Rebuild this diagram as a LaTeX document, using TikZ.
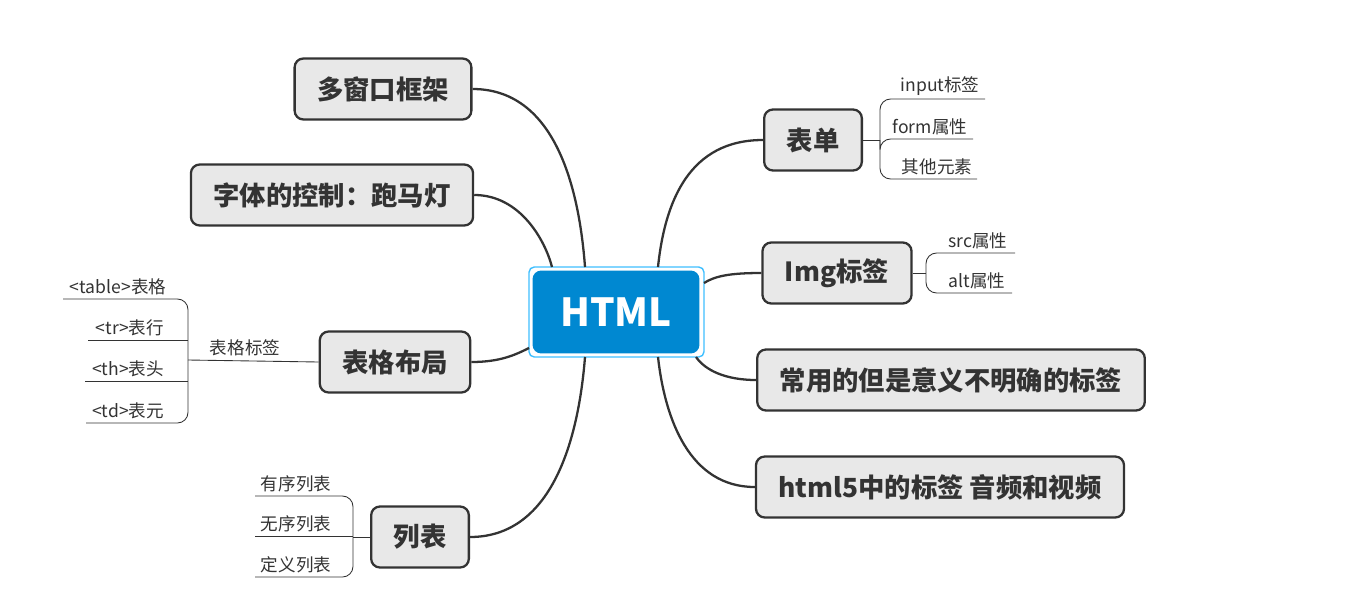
\documentclass[tikz,border=0pt]{standalone}
\usepackage{fontspec}
\setmainfont{Noto Sans CJK SC}
\usepackage{tikz}
\definecolor{topicgray}{HTML}{E8E8E8}
\definecolor{linegray}{HTML}{333333}
\definecolor{htmlblue}{HTML}{0088D1}
\definecolor{selblue}{HTML}{3FBFFF}
\tikzset{
  topic/.style={draw=linegray,line width=1.3pt,fill=topicgray,rounded corners=5pt,
    minimum height=1.22cm,inner xsep=0.45cm,font=\fontsize{15}{18}\selectfont\bfseries,text=linegray},
  sub/.style={font=\fontsize{10}{12}\selectfont,text=linegray,anchor=south,inner sep=2pt},
  branch/.style={draw=linegray,line width=1.3pt},
  leaf/.style={draw=linegray,line width=0.5pt,rounded corners=6pt}
}
\begin{document}
\begin{tikzpicture}[x=0.02cm,y=-0.02cm]
\useasboundingbox (0,0) rectangle (1354,605);

% Central topic
\draw[selblue,line width=0.8pt,rounded corners=3pt] (529,267) rectangle (704,357);
\node[fill=htmlblue,rounded corners=5pt,minimum width=3.34cm,minimum height=1.66cm,
  text=white,font=\fontsize{22}{26}\selectfont\bfseries] (html) at (616,312) {HTML};

% Main topics
\node[topic] (frame) at (383,89) {多窗口框架};
\node[topic] (font) at (332,195) {字体的控制：跑马灯};
\node[topic] (table) at (395,362) {表格布局};
\node[topic] (list) at (420,537) {列表};
\node[topic] (form) at (813,140) {表单};
\node[topic] (img) at (837,273) {Img标签};
\node[topic] (common) at (951,380) {常用的但是意义不明确的标签};
\node[topic] (html5) at (940,487) {html5中的标签 音频和视频};

% Branches
\draw[branch] (frame.east) .. controls (560,89) and (580,200) .. (585,267);
\draw[branch] (font.east) .. controls (520,195) and (545,240) .. (552,267);
\draw[branch] (table.east) .. controls (500,362) and (515,355) .. (529,348);
\draw[branch] (list.east) .. controls (560,537) and (580,420) .. (585,357);
\draw[branch] (form.west) .. controls (690,140) and (665,200) .. (658,267);
\draw[branch] (img.west) .. controls (730,273) and (715,276) .. (704,283);
\draw[branch] (common.west) .. controls (725,380) and (705,370) .. (696,357);
\draw[branch] (html5.west) .. controls (690,487) and (665,420) .. (658,357);

% Form details
\coordinate (fj) at (880,140);
\draw[leaf] (form.east) -- (fj);
\draw[leaf] (985,99) -- (880,99) -- (880,179) -- (977,179);
\draw[leaf] (fj) -- (880,139) -- (973,139);
\node[sub] (f1) at (940,99) {input标签};
\node[sub] (f2) at (930,139) {form属性};
\node[sub] (f3) at (937,179) {其他元素};

% Img details
\coordinate (ij) at (926,273);
\draw[leaf] (img.east) -- (ij);
\draw[leaf] (1015,253) -- (926,253) -- (926,293) -- (1012,293);
\node[sub] (i1) at (978,253) {src属性};
\node[sub] (i2) at (977,293) {alt属性};

% Table details
\coordinate (tj) at (188,360);
\draw[leaf] (table.west) -- (tj);
\node[sub] (tl) at (245,360) {表格标签};
\draw[leaf] (63,299) -- (188,299) -- (188,423) -- (86,423);
\draw[leaf] (88,340) -- (188,340);
\draw[leaf] (85,381) -- (188,381);
\node[sub] (t1) at (118,299) {<table>表格};
\node[sub] (t2) at (130,340) {<tr>表行};
\node[sub] (t3) at (128,381) {<th>表头};
\node[sub] (t4) at (128,423) {<td>表元};

% List details
\coordinate (lj) at (353,537);
\draw[leaf] (list.west) -- (lj);
\draw[leaf] (255,496) -- (353,496) -- (353,577) -- (255,577);
\draw[leaf] (255,536) -- (353,536);
\node[sub] (l1) at (296,496) {有序列表};
\node[sub] (l2) at (296,536) {无序列表};
\node[sub] (l3) at (296,577) {定义列表};
\end{tikzpicture}
\end{document}
